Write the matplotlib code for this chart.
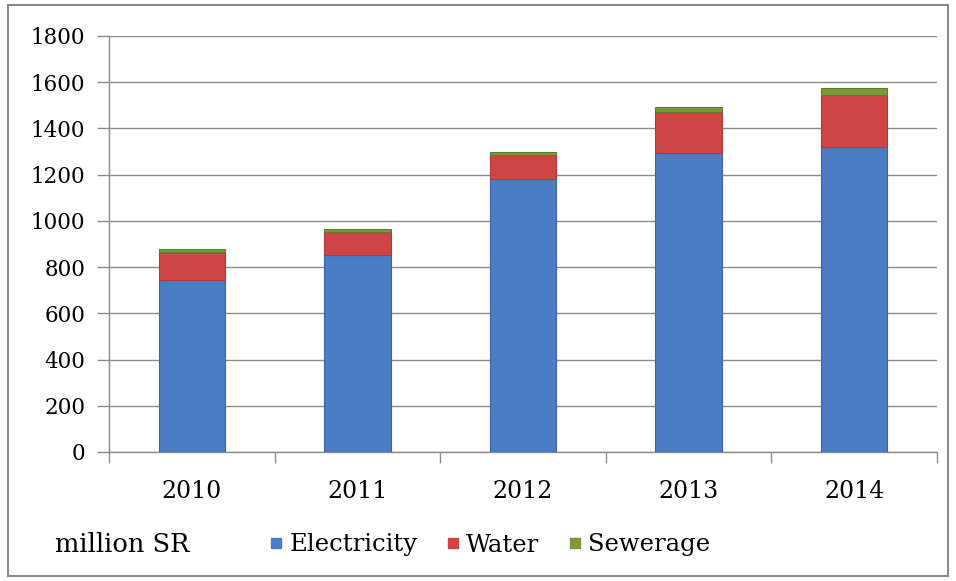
import matplotlib.pyplot as plt
from matplotlib.lines import Line2D
from matplotlib.patches import Rectangle
import numpy as np

# Revenue by sector, million SR
years = ["2010", "2011", "2012", "2013", "2014"]
electricity = [745, 852, 1180, 1295, 1321]
water = [122, 102, 105, 178, 224]
sewerage = [11, 12, 12, 21, 29]

series = ["Electricity", "Water", "Sewerage"]
colors = ["#4A7DC4", "#CF4545", "#7A9A3A"]
edges = ["#3A63A8", "#B03838", "#5F7A2C"]

plt.rcParams["font.family"] = ["DejaVu Serif"]

fig = plt.figure(figsize=(9.56, 5.81), dpi=100)
ax = fig.add_axes([109 / 956, 129 / 581, 828 / 956, 416 / 581])

x = np.arange(len(years))
bottom = np.zeros(len(years))
for vals, c, ec in zip([electricity, water, sewerage], colors, edges):
    ax.bar(x, vals, width=0.4, bottom=bottom, color=c, edgecolor=ec,
           linewidth=0.8, zorder=3)
    bottom += np.array(vals)

ax.set_xlim(-0.5, len(years) - 0.5)
ax.set_ylim(0, 1800)
ax.set_yticks(np.arange(0, 1801, 200))
ax.yaxis.grid(True, color="#8c8c8c", linewidth=1.0, zorder=0)

# category separators as major ticks, year labels on minor ticks
ax.set_xticks(np.arange(-0.5, len(years), 1.0))
ax.set_xticklabels([])
ax.set_xticks(x, minor=True)
ax.set_xticklabels(years, minor=True)
ax.tick_params(axis="x", which="major", length=8, color="#8c8c8c", width=1)
ax.tick_params(axis="x", which="minor", length=0, pad=20, labelsize=17)
ax.tick_params(axis="y", length=9, color="#8c8c8c", width=1, labelsize=15.5, pad=8)

for s in ["top", "right"]:
    ax.spines[s].set_visible(False)
for s in ["left", "bottom"]:
    ax.spines[s].set_color("#8c8c8c")
    ax.spines[s].set_linewidth(1)

fig.text(55 / 956, 36 / 581, "million SR", fontsize=18.5, va="center", ha="left")

handles = [Line2D([], [], marker="s", linestyle="none", markersize=7,
                  markerfacecolor=c, markeredgecolor=c) for c in colors]
fig.legend(handles, series, loc="center left", bbox_to_anchor=(258 / 956, 36 / 581),
           ncol=3, frameon=False, fontsize=17.5, handlelength=0.5,
           handletextpad=0.3, columnspacing=1.2, borderpad=0)

# outer frame
fig.patches.append(Rectangle((8 / 956, 5 / 581), 940 / 956, 571 / 581,
                             transform=fig.transFigure, fill=False,
                             edgecolor="#8a8a8a", linewidth=1.5))

fig.savefig("out.png", dpi=100)
